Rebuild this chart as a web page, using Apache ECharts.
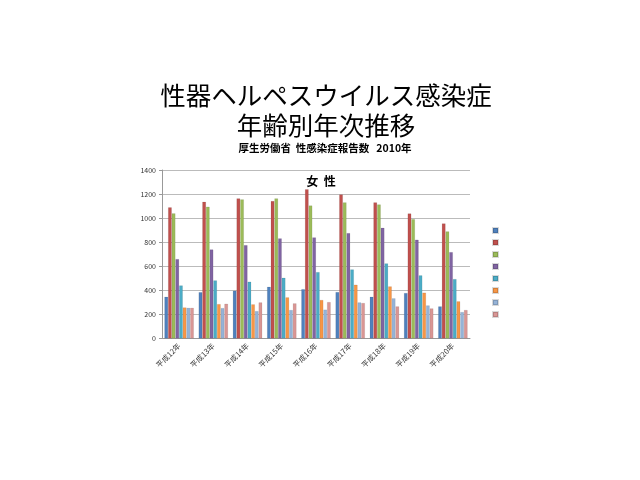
<!DOCTYPE html>
<html><head><meta charset="utf-8">
<script src="https://cdn.jsdelivr.net/npm/echarts@6/dist/echarts.min.js"></script>
<style>html,body{margin:0;padding:0;background:#fff}#c{width:640px;height:480px}</style>
</head><body><div id="c"></div>
<script>
const categories = ['平成12年','平成13年','平成14年','平成15年','平成16年','平成17年','平成18年','平成19年','平成20年'];
const seriesNames = ['0～14歳','15～19歳','20～24歳','25～29歳','30～34歳','35～39歳','40～44歳','45歳以上'];
const s1 = [347, 385, 397, 430, 410, 386, 347, 378, 267];
const s2 = [1090, 1136, 1164, 1142, 1240, 1197, 1131, 1039, 956];
const s3 = [1040, 1095, 1156, 1164, 1106, 1131, 1114, 992, 890];
const s4 = [660, 740, 776, 832, 840, 876, 920, 821, 718];
const s5 = [441, 483, 472, 505, 552, 574, 624, 525, 494];
const s6 = [258, 286, 284, 342, 320, 447, 433, 381, 309];
const s7 = [255, 253, 228, 237, 240, 300, 334, 275, 220];
const s8 = [255, 289, 300, 292, 303, 295, 267, 250, 237];
const seriesValues = [s1, s2, s3, s4, s5, s6, s7, s8];
const colors = ['#4F81BD','#C0504D','#9BBB59','#8064A2','#4BACC6','#F79646','#95B3D7','#D99694'];
const yTicks = [0, 200, 400, 600, 800, 1000, 1200, 1400];

const chart = echarts.init(document.getElementById('c'));
const font = '"Noto Sans CJK JP", sans-serif';
chart.setOption({
  animation: false,
  color: colors,
  title: [
    { text: '性器ヘルペスウイルス感染症\n年齢別年次推移', left: 321, top: 75, textAlign: 'center',
      textStyle: { fontFamily: font, fontSize: 25.5, fontWeight: 'normal', color: '#000', lineHeight: 30 } },
    { text: '厚生労働省  性感染症報告数   2010年', left: 320, top: 138, textAlign: 'center',
      textStyle: { fontFamily: font, fontSize: 10.5, fontWeight: 'bold', color: '#000' } },
    { text: '女  性', left: 316, top: 170, textAlign: 'center',
      textStyle: { fontFamily: font, fontSize: 12, fontWeight: 'bold', color: '#000' } }
  ],
  legend: {
    orient: 'vertical', left: 487, top: 222, itemWidth: 5, itemHeight: 5, itemGap: 5,
    icon: 'rect', formatter: () => '', data: seriesNames, selectedMode: false,
    textStyle: { fontSize: 5, lineHeight: 5 }
  },
  grid: { left: 162, right: 170, top: 170, bottom: 141.5 },
  xAxis: {
    type: 'category', data: categories,
    axisLine: { lineStyle: { color: '#999' } },
    axisTick: { length: 3, lineStyle: { color: '#999' } },
    axisLabel: { rotate: 45, fontSize: 7.5, color: '#333', fontFamily: font, margin: 6 }
  },
  yAxis: {
    type: 'value', min: 0, max: 1400, interval: 200,
    axisLine: { show: true, lineStyle: { color: '#999' } },
    axisTick: { show: true, length: 3, lineStyle: { color: '#999' } },
    axisLabel: { fontSize: 7, color: '#333', fontFamily: font, margin: 6,
      formatter: v => yTicks.includes(v) ? String(v) : '' },
    splitLine: { lineStyle: { color: '#BBBBBB' } }
  },
  series: seriesValues.map((d, i) => ({
    name: seriesNames[i], type: 'bar', data: d,
    barGap: '0%', barCategoryGap: '14%',
    itemStyle: { color: colors[i], borderColor: 'rgba(0,0,0,0.15)', borderWidth: 0.5 }
  }))
});
</script></body></html>
